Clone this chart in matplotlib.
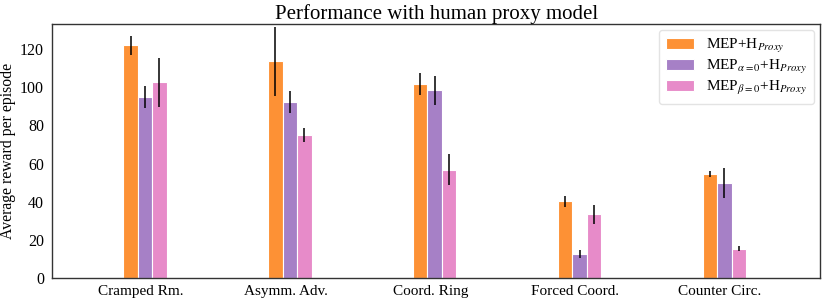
import numpy as np
import matplotlib
matplotlib.use("Agg")
import matplotlib.pyplot as plt

plt.rcParams['font.family'] = ['Liberation Serif', 'DejaVu Serif']
plt.rcParams['mathtext.fontset'] = 'stix'

layouts = ["Cramped Rm.", "Asymm. Adv.", "Coord. Ring", "Forced Coord.", "Counter Circ."]
labels = [r"MEP+H$_{Proxy}$", r"MEP$_{\alpha=0}$+H$_{Proxy}$", r"MEP$_{\beta=0}$+H$_{Proxy}$"]
colors = ["#fd9135", "#a680c6", "#e78bc9"]

mep = [122.0, 113.5, 101.7, 40.2, 54.5]
mep_err = [5.0, 18.0, 5.7, 2.7, 1.6]
mep_a0 = [94.7, 92.2, 98.4, 12.6, 50.0]
mep_a0_err = [5.7, 5.8, 7.6, 2.2, 7.8]
mep_b0 = [102.5, 75.0, 56.8, 33.4, 15.4]
mep_b0_err = [13.0, 3.5, 8.0, 5.0, 1.2]

fig = plt.figure(figsize=(8.3, 3.05), dpi=100)
ax = fig.add_axes([0.063, 0.088, 0.925, 0.833])

x = np.arange(len(layouts))
width = 0.1
series = [(mep, mep_err), (mep_a0, mep_a0_err), (mep_b0, mep_b0_err)]
for i, (vals, errs) in enumerate(series):
    ax.bar(x + (i - 1) * width, vals, width, yerr=errs, color=colors[i],
           edgecolor="white", linewidth=0.8, label=labels[i],
           error_kw=dict(ecolor="black", elinewidth=1.1, capsize=0))

ax.set_xticks(x - 0.03)
ax.set_xticklabels(layouts, fontsize=11)
ax.set_xlim(-0.64, 4.66)
ax.set_ylim(0, 133)
ax.set_yticks(range(0, 121, 20))
ax.tick_params(axis="y", labelsize=11.5, length=0, pad=6)
ax.tick_params(axis="x", length=0, pad=5)
ax.set_ylabel("Average reward per episode", fontsize=11.3, labelpad=3)
ax.set_title("Performance with human proxy model", fontsize=15, pad=3)
for s in ax.spines.values():
    s.set_color("#333333")
    s.set_linewidth(1.0)

ax.legend(loc="upper right", fontsize=11, frameon=True, edgecolor="#dddddd",
          borderpad=0.45, handlelength=1.8, labelspacing=0.2,
          borderaxespad=0.4)

fig.savefig("out.png", dpi=100)
